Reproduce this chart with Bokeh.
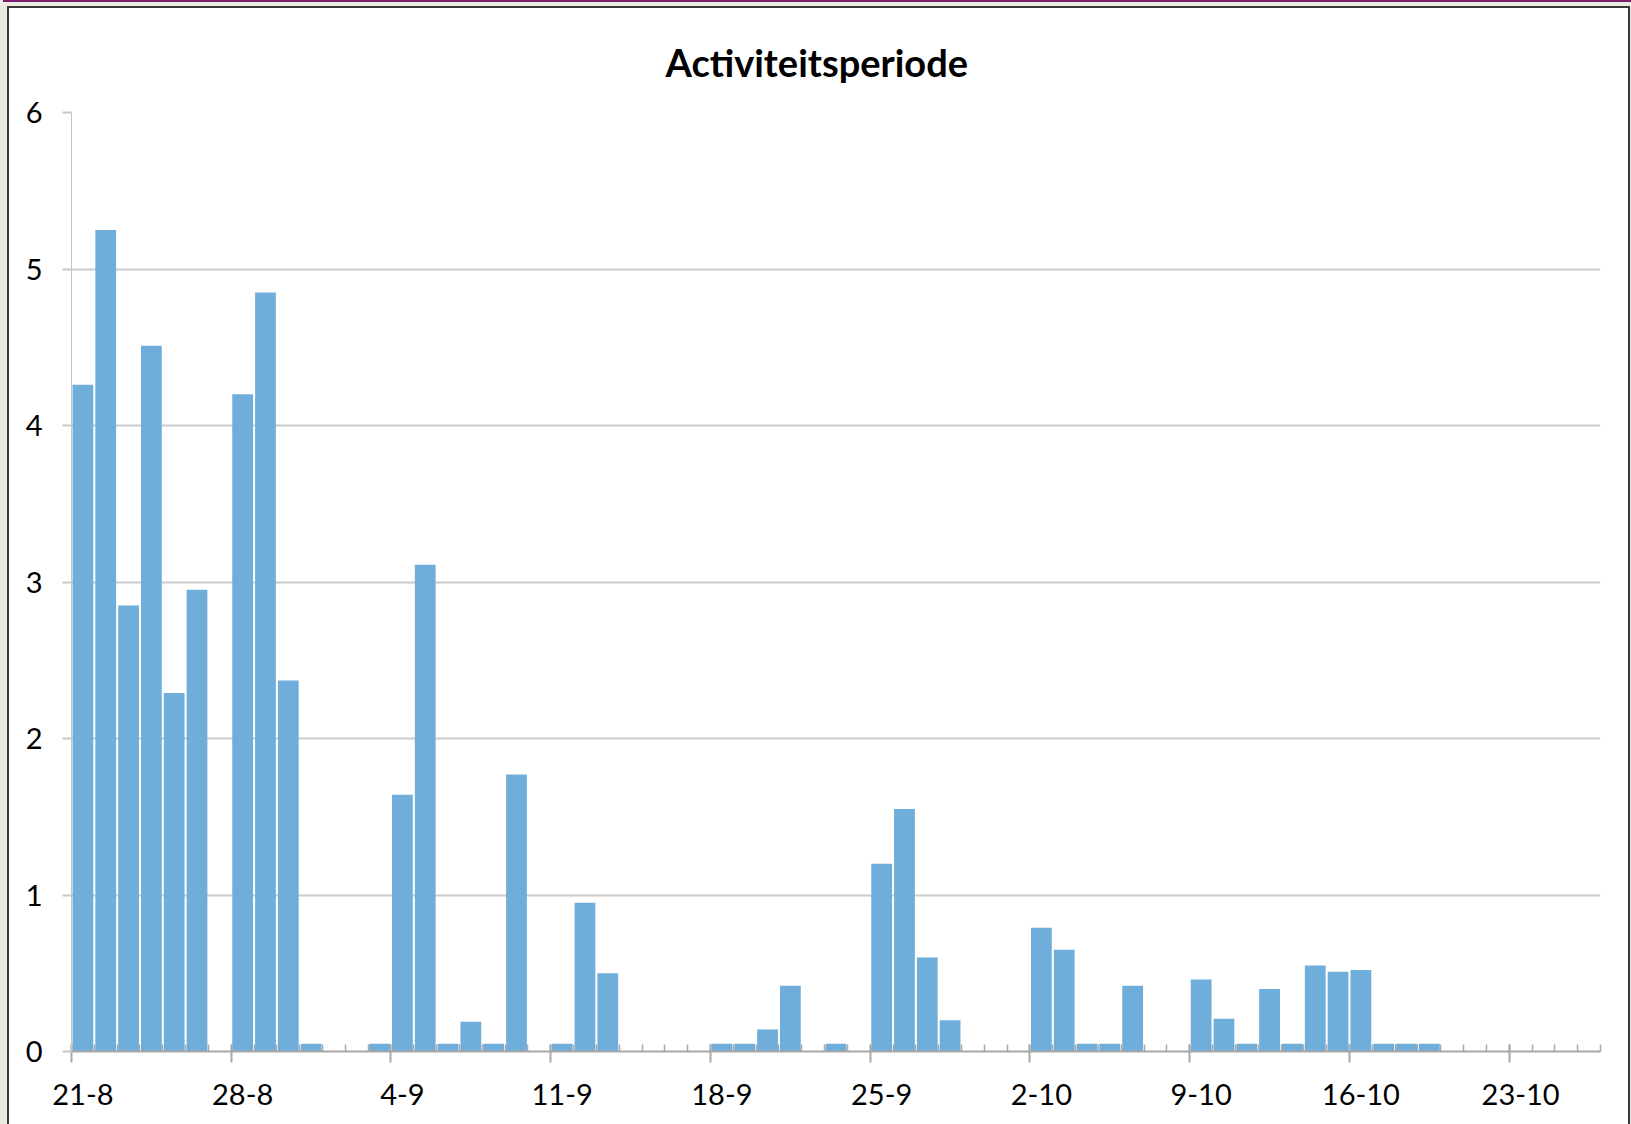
from bokeh.plotting import figure
from bokeh.models import Range1d, FixedTicker, LinearAxis, ColumnDataSource, Title
from bokeh.embed import file_html
from bokeh.resources import INLINE

# ---- data ----
title_text = "Activiteitsperiode"
tick_labels = ["21-8", "28-8", "4-9", "11-9", "18-9", "25-9", "2-10", "9-10", "16-10", "23-10"]
n_days = 67  # 21-8 .. 26-10
values = [
    4.26, 5.25, 2.85, 4.51, 2.29, 2.95, 0,      # 21-8 .. 27-8
    4.20, 4.85, 2.37, 0.05, 0, 0, 0.05,         # 28-8 .. 3-9
    1.64, 3.11, 0.05, 0.19, 0.05, 1.77, 0,      # 4-9 .. 10-9
    0.05, 0.95, 0.50, 0, 0, 0, 0,               # 11-9 .. 17-9
    0.05, 0.05, 0.14, 0.42, 0, 0.05, 0,         # 18-9 .. 24-9
    1.20, 1.55, 0.60, 0.20, 0, 0, 0,            # 25-9 .. 1-10
    0.79, 0.65, 0.05, 0.05, 0.42, 0, 0,         # 2-10 .. 8-10
    0.46, 0.21, 0.05, 0.40, 0.05, 0.55, 0.51,   # 9-10 .. 15-10
    0.52, 0.05, 0.05, 0.05, 0, 0, 0,            # 16-10 .. 22-10
    0, 0, 0, 0,                                 # 23-10 .. 26-10
]
y_ticks = [0, 1, 2, 3, 4, 5, 6]

day_index = list(range(n_days))
centers = [i + 0.5 for i in day_index]
src = ColumnDataSource(dict(x=centers, top=values))

FONT = "Lato"
W, H = 1619, 1116

p = figure(width=W, height=H, output_backend="svg", toolbar_location=None,
           x_range=Range1d(0, n_days), y_range=Range1d(0, 6),
           min_border_left=62, min_border_right=28, min_border_top=104, min_border_bottom=73,
           x_axis_type=None, y_axis_location="left")
p.outline_line_color = None
p.background_fill_color = "white"
p.border_fill_color = "white"
p.styles = {
    "margin": "8px 0 0 9px",
    "box-shadow": "0 0 0 2px #3a3a3a, 0 0 0 6px #ecebe2, 0 -2px 0 6px #7b1e6b, 0 0 0 10px #ecebe2",
}

p.vbar(x="x", top="top", width=0.91, bottom=0, source=src,
       fill_color="#6fadda", line_color=None)

# y axis
p.yaxis.ticker = FixedTicker(ticks=y_ticks)
p.yaxis.axis_line_color = "#c4c4c4"
p.yaxis.axis_line_width = 1
p.yaxis.major_tick_in = 0
p.yaxis.major_tick_out = 9
p.yaxis.major_tick_line_color = "#c8c8c8"
p.yaxis.major_tick_line_width = 2
p.yaxis.minor_tick_line_color = None
p.yaxis.major_label_standoff = 20
p.yaxis.major_label_text_font = FONT
p.yaxis.major_label_text_font_size = "29px"
p.yaxis.major_label_text_color = "black"
p.ygrid.grid_line_color = "#cbcbcb"
p.ygrid.grid_line_width = 2
p.xgrid.grid_line_color = None

# x axis: ticks at day boundaries
week_starts = day_index[::7]
tick_axis = LinearAxis(ticker=FixedTicker(ticks=week_starts, minor_ticks=list(range(n_days + 1))))
tick_axis.axis_line_color = "#a8a8a8"
tick_axis.axis_line_width = 2
tick_axis.major_tick_in = 7
tick_axis.major_tick_out = 11
tick_axis.major_tick_line_color = "#a8a8a8"
tick_axis.major_tick_line_width = 2
tick_axis.minor_tick_in = 7
tick_axis.minor_tick_out = 0
tick_axis.minor_tick_line_color = "#a8a8a8"
tick_axis.minor_tick_line_width = 1.5
tick_axis.major_label_text_font_size = "1px"
tick_axis.major_label_text_alpha = 0
tick_axis.major_label_standoff = 0
p.add_layout(tick_axis, "below")

# x axis: labels centred on the first day of each week
label_pos = [centers[i] for i in week_starts]
label_axis = LinearAxis(ticker=FixedTicker(ticks=label_pos, minor_ticks=[]))
label_axis.major_label_overrides = {pos: lab for pos, lab in zip(label_pos, tick_labels)}
label_axis.axis_line_color = None
label_axis.major_tick_line_color = None
label_axis.minor_tick_line_color = None
label_axis.major_label_standoff = 15
label_axis.major_label_text_font = FONT
label_axis.major_label_text_font_size = "29px"
label_axis.major_label_text_color = "black"
p.add_layout(label_axis, "below")

p.title = Title(text=title_text, align="left", offset=594, standoff=56,
                text_font=FONT, text_font_size="38px", text_font_style="bold",
                text_color="black")

open("out.html", "w").write(file_html(p, INLINE))
